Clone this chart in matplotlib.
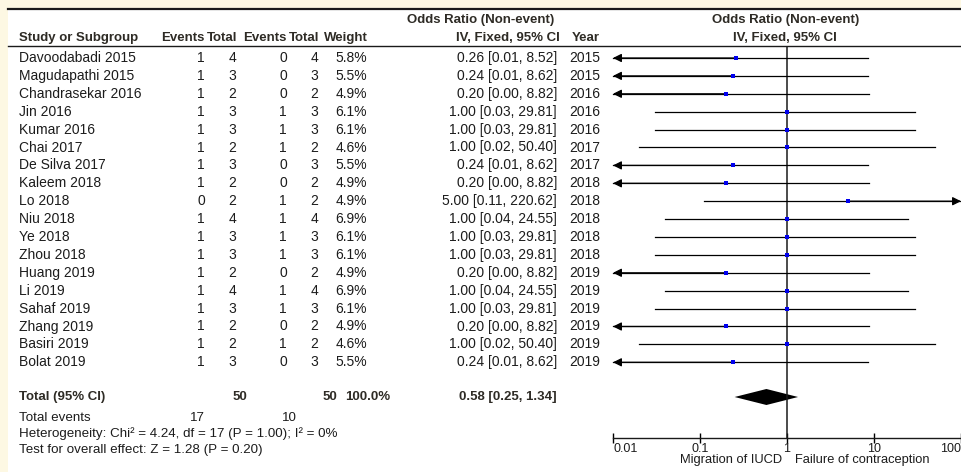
import numpy as np
import matplotlib
matplotlib.use("Agg")
import matplotlib.pyplot as plt
from matplotlib.patches import Rectangle

studies = ['Davoodabadi 2015', 'Magudapathi 2015', 'Chandrasekar 2016', 'Jin 2016',
           'Kumar 2016', 'Chai 2017', 'De Silva 2017', 'Kaleem 2018', 'Lo 2018',
           'Niu 2018', 'Ye 2018', 'Zhou 2018', 'Huang 2019', 'Li 2019',
           'Sahaf 2019', 'Zhang 2019', 'Basiri 2019', 'Bolat 2019']
exp_events = [1, 1, 1, 1, 1, 1, 1, 1, 0, 1, 1, 1, 1, 1, 1, 1, 1, 1]
exp_total = [4, 3, 2, 3, 3, 2, 3, 2, 2, 4, 3, 3, 2, 4, 3, 2, 2, 3]
ctl_events = [0, 0, 0, 1, 1, 1, 0, 0, 1, 1, 1, 1, 0, 1, 1, 0, 1, 0]
ctl_total = [4, 3, 2, 3, 3, 2, 3, 2, 2, 4, 3, 3, 2, 4, 3, 2, 2, 3]
weights = [5.8, 5.5, 4.9, 6.1, 6.1, 4.6, 5.5, 4.9, 4.9, 6.9, 6.1, 6.1, 4.9, 6.9, 6.1, 4.9, 4.6, 5.5]
or_est = [0.26, 0.24, 0.20, 1.00, 1.00, 1.00, 0.24, 0.20, 5.00, 1.00, 1.00, 1.00, 0.20, 1.00, 1.00, 0.20, 1.00, 0.24]
ci_lo = [0.01, 0.01, 0.00, 0.03, 0.03, 0.02, 0.01, 0.00, 0.11, 0.04, 0.03, 0.03, 0.00, 0.04, 0.03, 0.00, 0.02, 0.01]
ci_hi = [8.52, 8.62, 8.82, 29.81, 29.81, 50.40, 8.62, 8.82, 220.62, 24.55, 29.81, 29.81, 8.82, 24.55, 29.81, 8.82, 50.40, 8.62]
years = [2015, 2015, 2016, 2016, 2016, 2017, 2017, 2018, 2018, 2018, 2018, 2018, 2019, 2019, 2019, 2019, 2019, 2019]

pooled = (0.58, 0.25, 1.34)
total_weight = 100.0
heterogeneity = 'Heterogeneity: Chi\u00b2 = 4.24, df = 17 (P = 1.00); I\u00b2 = 0%'
overall = 'Test for overall effect: Z = 1.28 (P = 0.20)'
x_ticks = [0.01, 0.1, 1, 10, 100]
x_ticklabels = ['0.01', '0.1', '1', '10', '100']
favours = ['Migration of IUCD', 'Failure of contraception']

W, H = 961, 472
FONT = 'Liberation Sans'
TXT = '#1c1c1c'
HDR = '#2e2b25'
FS = 10      # body rows
FSB = 9.5    # bold headers
FS2 = 9.6    # footer lines

fig = plt.figure(figsize=(W / 100, H / 100), dpi=100)
fig.patch.set_facecolor('#fdf8e3')

# table axes in pixel coordinates
ax = fig.add_axes([0, 0, 1, 1])
ax.set_xlim(0, W)
ax.set_ylim(H, 0)
ax.axis('off')
ax.add_patch(Rectangle((8, 9), W - 8, H - 9, facecolor='white', edgecolor='none'))
ax.plot([8, W], [9, 9], color='#1a1a1a', lw=1.6)
ax.plot([8, W], [46, 46], color='#1a1a1a', lw=1.0)


def txt(x, y, s, ha='right', bold=False, size=FS, color=TXT):
    ax.text(x, y, s, ha=ha, va='center', fontsize=size, family=FONT,
            fontweight='bold' if bold else 'normal', color=color)


def hdr(x, y, s, ha='right'):
    txt(x, y, s, ha=ha, bold=True, size=FSB, color=HDR)


# column right edges
c_ev1, c_tot1, c_ev2, c_tot2, c_w, c_or, c_yr = 205, 236, 287, 318, 367, 557, 600

# headers
hdr(481, 20, 'Odds Ratio (Non-event)', ha='center')
hdr(786, 20, 'Odds Ratio (Non-event)', ha='center')
hdr(19, 38, 'Study or Subgroup', ha='left')
for x, s in [(c_ev1, 'Events'), (c_tot1 + 1, 'Total'), (c_ev2, 'Events'),
             (c_tot2 + 1, 'Total'), (c_w + 1, 'Weight'), (c_or + 3, 'IV, Fixed, 95% CI'),
             (c_yr, 'Year')]:
    hdr(x, 38, s)
hdr(785, 38, 'IV, Fixed, 95% CI', ha='center')

ROW0, ROW_H = 58, 17.9
rows_y = [ROW0 + ROW_H * i for i in range(len(studies))]

for i, y in enumerate(rows_y):
    txt(19, y, studies[i], ha='left')
    txt(c_ev1, y, str(exp_events[i]))
    txt(c_tot1, y, str(exp_total[i]))
    txt(c_ev2, y, str(ctl_events[i]))
    txt(c_tot2, y, str(ctl_total[i]))
    txt(c_w, y, f'{weights[i]:.1f}%')
    txt(c_or, y, f'{or_est[i]:.2f} [{ci_lo[i]:.2f}, {ci_hi[i]:.2f}]')
    txt(c_yr, y, str(years[i]))

# totals
y_tot = 397
hdr(19, y_tot, 'Total (95% CI)', ha='left')
hdr(247, y_tot, str(sum(exp_total)))
hdr(337, y_tot, str(sum(ctl_total)))
hdr(390, y_tot, f'{total_weight:.1f}%')
hdr(c_or, y_tot, f'{pooled[0]:.2f} [{pooled[1]:.2f}, {pooled[2]:.2f}]')

txt(19, 418, 'Total events', ha='left', size=FS2)
txt(c_ev1, 418, str(sum(exp_events)), size=FS2)
txt(c_ev2 + 10, 418, str(sum(ctl_events)), size=FS2)
txt(19, 434, heterogeneity, ha='left', size=FS2)
txt(19, 450, overall, ha='left', size=FS2)

# forest plot axes: x on log scale, y in pixel rows
x0, x1, y_top, y_axis = 613, W, 46, 438
fa = fig.add_axes([x0 / W, (H - y_axis) / H, (x1 - x0) / W, (y_axis - y_top) / H])
fa.patch.set_alpha(0)
fa.set_xscale('log')
fa.set_xlim(0.01, 100)
fa.set_ylim(y_axis, y_top)
for side in ['top', 'left', 'right']:
    fa.spines[side].set_visible(False)
fa.spines['bottom'].set_linewidth(1.0)
fa.spines['bottom'].set_color('#1a1a1a')
fa.set_yticks([])
fa.set_xticks(x_ticks)
fa.set_xticklabels(x_ticklabels, fontsize=9, family=FONT, color=TXT)
fa.minorticks_off()
fa.tick_params(axis='x', direction='inout', length=7, width=1, pad=0)
labs = fa.get_xticklabels()
labs[0].set_horizontalalignment('left')
labs[-1].set_horizontalalignment('right')

fa.axvline(1, color='#1a1a1a', lw=1.1)

lo_lim, hi_lim = fa.get_xlim()
arrow = dict(arrowstyle='-|>,head_length=0.5,head_width=0.25', color='black',
             lw=0.9, shrinkA=0, shrinkB=0)
for i, y in enumerate(rows_y):
    lo = max(ci_lo[i], lo_lim)
    hi = min(ci_hi[i], hi_lim)
    fa.plot([lo, hi], [y, y], color='black', lw=0.9, clip_on=False)
    if ci_lo[i] <= lo_lim:
        fa.annotate('', xy=(lo_lim, y), xytext=(or_est[i], y), arrowprops=arrow,
                    annotation_clip=False)
    if ci_hi[i] >= hi_lim:
        fa.annotate('', xy=(hi_lim, y), xytext=(or_est[i], y), arrowprops=arrow,
                    annotation_clip=False)
    fa.plot(or_est[i], y, marker='s', color='#0000ee', ms=2.7 * np.sqrt(weights[i] / 5.5),
            mew=0, zorder=5, clip_on=False)

est, lo, hi = pooled
fa.fill([lo, est, hi, est], [y_tot, y_tot - 8, y_tot, y_tot + 8], color='black', lw=0)

# favours captions under the axis
ax.text(782, 460, favours[0], ha='right', va='center', fontsize=9.3, family=FONT, color=TXT)
ax.text(795, 460, favours[1], ha='left', va='center', fontsize=9.3, family=FONT, color=TXT)

fig.savefig('out.png', dpi=100)
